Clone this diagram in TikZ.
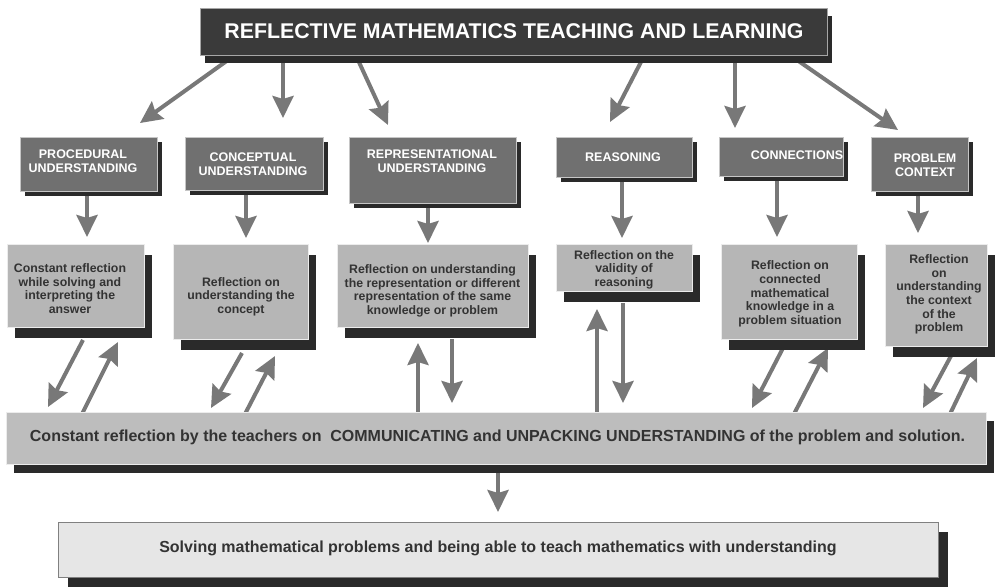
\documentclass[tikz,border=0pt]{standalone}
\usepackage{fontspec}
\setmainfont{Liberation Sans}
\usetikzlibrary{shadows,arrows.meta,calc,backgrounds}
\definecolor{topc}{HTML}{3A3A3A}
\definecolor{midc}{HTML}{707070}
\definecolor{lowc}{HTML}{B6B6B6}
\definecolor{barc}{HTML}{BDBDBD}
\definecolor{botc}{HTML}{E6E6E6}
\definecolor{shc}{HTML}{2A2A2A}
\definecolor{arrc}{HTML}{787878}
\definecolor{txtc}{HTML}{333333}
\newcommand\mybox[6]{%
  \node[#6, anchor=north west, inner sep=0pt, outer sep=0pt,
        minimum width={(#4-#2)*1pt}, minimum height={(#5-#3)*1pt}] (#1) at (#2,#3) {};}
\begin{document}
\begin{tikzpicture}[x=1pt,y=-1pt,
  arr/.style={draw=arrc, line width=4pt, -{Stealth[length=22pt,width=21pt,inset=3pt]}},
  topbox/.style={fill=topc, draw=gray!70, line width=0.6pt,
     drop shadow={shadow xshift=5pt, shadow yshift=-8pt, opacity=1, fill=shc}},
  midbox/.style={fill=midc, draw=gray!45, line width=0.6pt,
     drop shadow={shadow xshift=5pt, shadow yshift=-5pt, opacity=1, fill=shc}},
  lowbox/.style={fill=lowc, draw=gray!15, line width=0.6pt,
     drop shadow={shadow xshift=8pt, shadow yshift=-11pt, opacity=1, fill=shc}},
  barbox/.style={fill=barc, draw=gray!15, line width=0.6pt,
     drop shadow={shadow xshift=8pt, shadow yshift=-9pt, opacity=1, fill=shc}},
  botbox/.style={fill=botc, draw=gray, line width=0.8pt,
     drop shadow={shadow xshift=10pt, shadow yshift=-10pt, opacity=1, fill=shc}},
  toptext/.style={text=white, font=\fontsize{21.3}{24}\selectfont\bfseries, inner sep=0pt},
  midtext/.style={text=white, align=center, font=\fontsize{12.5}{13.8}\selectfont\bfseries, inner sep=0pt},
  lowtext/.style={text=txtc, align=center, font=\fontsize{12.3}{13.6}\selectfont\bfseries, inner sep=0pt},
  bartext/.style={text=txtc, font=\fontsize{16}{18}\selectfont\bfseries, inner sep=0pt},
]
\useasboundingbox (0,0) rectangle (995,587);

% boxes
\mybox{top}{200}{8}{827}{55}{topbox}
\mybox{P}{20}{137}{157}{191}{midbox}
\mybox{C}{185}{137}{323}{190}{midbox}
\mybox{R}{349}{137}{516}{203}{midbox}
\mybox{Re}{556}{137}{692}{177}{midbox}
\mybox{Co}{719}{137}{843}{176}{midbox}
\mybox{Pc}{871}{137}{968}{191}{midbox}
\mybox{La}{7}{244}{144}{327}{lowbox}
\mybox{Lb}{173}{244}{308}{339}{lowbox}
\mybox{Lc}{337}{244}{528}{327}{lowbox}
\mybox{Ld}{556}{244}{692}{291}{lowbox}
\mybox{Le}{721}{244}{857}{339}{lowbox}
\mybox{Lf}{885}{244}{987}{346}{lowbox}
\mybox{bar}{6}{412}{986}{464}{barbox}
\mybox{bot}{58}{522}{938}{577}{botbox}

% texts
\node[toptext] (ttop) at (514,31) {REFLECTIVE MATHEMATICS TEACHING AND LEARNING};
\node[midtext] (tP) at (83,161) {PROCEDURAL\\UNDERSTANDING};
\node[midtext] (tC) at (253,164) {CONCEPTUAL\\UNDERSTANDING};
\node[midtext] (tR) at (432,161.5) {REPRESENTATIONAL\\UNDERSTANDING};
\node[midtext] (tRe) at (623,157) {REASONING};
\node[midtext] (tCo) at (797,155) {CONNECTIONS};
\node[midtext] (tPc) at (925,165) {PROBLEM\\CONTEXT};
\node[lowtext] (tLa) at (70,288.5) {Constant reflection\\while solving and\\interpreting the\\answer};
\node[lowtext] (tLb) at (241,296.5) {Reflection on\\understanding the\\concept};
\node[lowtext] (tLc) at (432.5,291) {Reflection on understanding\\the representation or different\\representation of the same\\knowledge or problem};
\node[lowtext] (tLd) at (624,269.5) {Reflection on the\\validity of\\reasoning};
\node[lowtext] (tLe) at (790,294) {Reflection on\\connected\\mathematical\\knowledge in a\\problem situation};
\node[lowtext] (tLf) at (939,294.5) {Reflection\\on\\understanding\\the context\\of the\\problem};
\node[bartext] (tbar) at (497.5,437) {Constant reflection by the teachers on\ \ COMMUNICATING and UNPACKING UNDERSTANDING of the problem and solution.};
\node[bartext] (tbot) at (498,548.5) {Solving mathematical problems and being able to teach mathematics with understanding};

\begin{pgfonlayer}{background}
% top to level 2
\draw[arr] ($(top.south west)+(28,5)$) -- ($(P.north west)+(120,-14)$);
\draw[arr] ($(top.south west)+(83,5)$) -- ($(C.north west)+(98,-19)$);
\draw[arr] ($(top.south west)+(158,5)$) -- ($(R.north west)+(39,-12)$);
\draw[arr] ($(top.south west)+(442,5)$) -- ($(Re.north west)+(54,-15)$);
\draw[arr] ($(top.south west)+(535,5)$) -- ($(Co.north west)+(16,-9)$);
\draw[arr] ($(top.south west)+(597,5)$) -- ($(Pc.north west)+(27,-7)$);
% level 2 to level 3
\draw[arr] ($(P.south west)+(67,-3)$) -- ($(La.north west)+(80,-7)$);
\draw[arr] ($(C.south west)+(61,-3)$) -- ($(Lb.north west)+(73,-6)$);
\draw[arr] ($(R.south west)+(79,-3)$) -- ($(Lc.north west)+(91,-1)$);
\draw[arr] ($(Re.south west)+(66,-3)$) -- ($(Ld.north west)+(66,-6)$);
\draw[arr] ($(Co.south west)+(58,-3)$) -- ($(Le.north west)+(56,-7)$);
\draw[arr] ($(Pc.south west)+(47,-3)$) -- ($(Lf.north west)+(33,-11)$);
% level 3 <-> bar
\draw[arr] ($(La.south west)+(76,13)$) -- ($(bar.north west)+(42,-5)$);
\draw[arr] ($(bar.north west)+(76,2)$) -- ($(La.south west)+(111,15)$);
\draw[arr] ($(Lb.south west)+(69,14)$) -- ($(bar.north west)+(205,-4)$);
\draw[arr] ($(bar.north west)+(239,2)$) -- ($(Lb.south west)+(102,17)$);
\draw[arr] ($(bar.north west)+(412,2)$) -- ($(Lc.south west)+(81,16)$);
\draw[arr] ($(Lc.south west)+(115,12)$) -- ($(bar.north west)+(446,-9)$);
\draw[arr] ($(bar.north west)+(591,2)$) -- ($(Ld.south west)+(41,18)$);
\draw[arr] ($(Ld.south west)+(67,12)$) -- ($(bar.north west)+(617,-9)$);
\draw[arr] ($(Le.south west)+(62,9)$) -- ($(bar.north west)+(746,-4)$);
\draw[arr] ($(bar.north west)+(788,2)$) -- ($(Le.south west)+(107,9)$);
\draw[arr] ($(Lf.south west)+(67,8)$) -- ($(bar.north west)+(917,-4)$);
\draw[arr] ($(bar.north west)+(944,2)$) -- ($(Lf.south west)+(92,12)$);
% bar to bottom
\draw[arr] ($(bar.south west)+(492,4)$) -- ($(bot.north west)+(440,-10)$);
\end{pgfonlayer}
\end{tikzpicture}
\end{document}
